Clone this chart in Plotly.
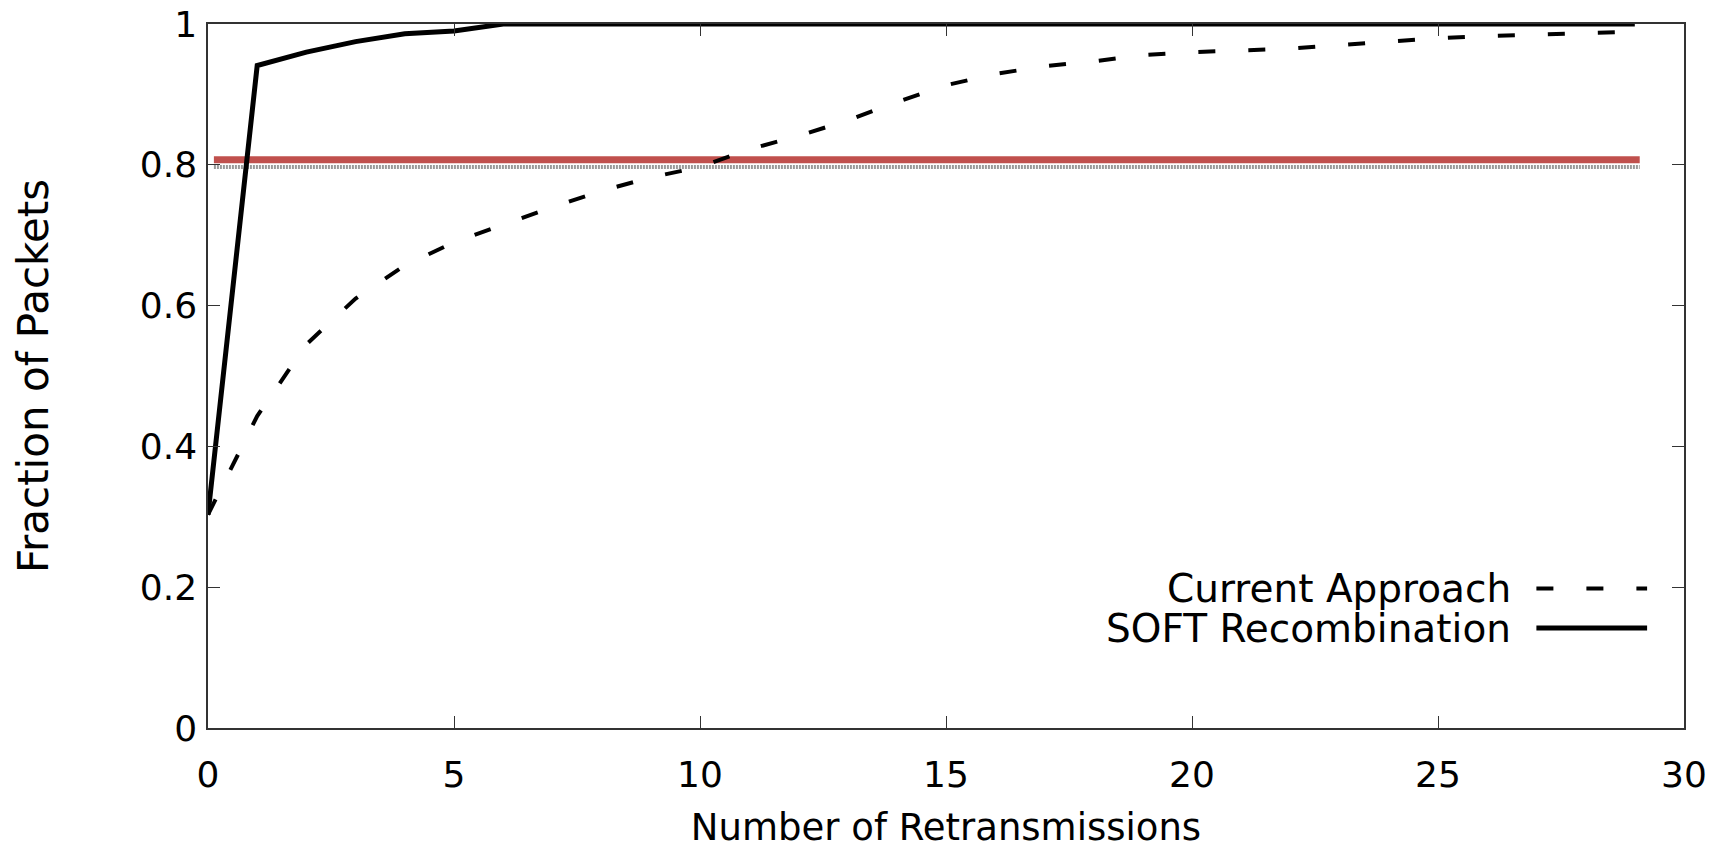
import plotly.graph_objects as go

# ---- data ----
retransmissions = list(range(0, 30))
current_approach = [0.303, 0.443, 0.545, 0.610, 0.657, 0.690, 0.715, 0.740, 0.763, 0.782,
                    0.797, 0.822, 0.841, 0.863, 0.889, 0.913, 0.929, 0.940, 0.947, 0.956,
                    0.960, 0.962, 0.965, 0.970, 0.975, 0.980, 0.983, 0.985, 0.987, 0.989]
soft_recombination = [0.303, 0.941, 0.960, 0.975, 0.986, 0.990, 1.0, 1.0, 1.0, 1.0,
                      1.0, 1.0, 1.0, 1.0, 1.0, 1.0, 1.0, 1.0, 1.0, 1.0,
                      1.0, 1.0, 1.0, 1.0, 1.0, 1.0, 1.0, 1.0, 1.0, 1.0]
threshold_x = [0.12, 29.1]
grey_level = [0.797, 0.797]
red_level = [0.807, 0.807]

series_names = ["Current Approach", "SOFT Recombination"]
x_ticks = [0, 5, 10, 15, 20, 25, 30]
y_ticks = [0, 0.2, 0.4, 0.6, 0.8, 1]
y_tick_labels = ["0", "0.2", "0.4", "0.6", "0.8", "1"]

FONT = "DejaVu Sans"
DASH = "17px,33px"

fig = go.Figure()

fig.add_trace(go.Scatter(x=threshold_x, y=grey_level, mode="lines",
                         line=dict(color="#9a9a9a", width=4, dash="2px,1px"),
                         showlegend=False, hoverinfo="skip"))
fig.add_trace(go.Scatter(x=threshold_x, y=red_level, mode="lines",
                         line=dict(color="#c0504d", width=7),
                         showlegend=False, hoverinfo="skip"))
fig.add_trace(go.Scatter(x=retransmissions, y=current_approach, mode="lines",
                         name=series_names[0],
                         line=dict(color="black", width=4, dash=DASH),
                         showlegend=False))
fig.add_trace(go.Scatter(x=retransmissions, y=soft_recombination, mode="lines",
                         name=series_names[1],
                         line=dict(color="black", width=5),
                         showlegend=False))

# manual gnuplot-style legend (text on the left, sample on the right)
legend_rows = [0.198, 0.142]
legend_styles = [DASH, "solid"]
legend_widths = [4, 5]
for name, yy, dash, w in zip(series_names, legend_rows, legend_styles, legend_widths):
    fig.add_annotation(x=0.884, y=yy, xref="paper", yref="paper", text=name,
                       showarrow=False, xanchor="right", yanchor="middle",
                       font=dict(family=FONT, size=39, color="black"))
    fig.add_shape(type="line", xref="paper", yref="paper", x0=0.900, x1=0.975,
                  y0=yy, y1=yy, line=dict(color="black", width=w, dash=dash))

axis_common = dict(showline=True, linecolor="#333333", linewidth=1.5, mirror="ticks",
                   ticks="inside", ticklen=12, tickwidth=1.2, tickcolor="#333333",
                   showgrid=False, zeroline=False, ticklabeloverflow="allow",
                   tickfont=dict(family=FONT, size=36, color="black"))

fig.update_xaxes(range=[0, 30], tickvals=x_ticks, ticklabelstandoff=14,
                 title=dict(text="Number of Retransmissions",
                            font=dict(family=FONT, size=37, color="black"), standoff=20),
                 **axis_common)
fig.update_yaxes(range=[0, 1], tickvals=y_ticks, ticktext=y_tick_labels,
                 ticklabelstandoff=2,
                 title=dict(text="Fraction of Packets",
                            font=dict(family=FONT, size=42, color="black"), standoff=78),
                 **axis_common)

# plot area at x 208..1684, y 24..728 of the 1722x851 window
fig.update_layout(width=1722, height=851,
                  margin=dict(l=208, r=38, t=24, b=123, autoexpand=False),
                  paper_bgcolor="white", plot_bgcolor="white",
                  showlegend=False)

fig.write_html("out.html",
               config={"displayModeBar": False},
               post_script="document.body.style.margin='0';document.body.style.overflow='hidden';")
